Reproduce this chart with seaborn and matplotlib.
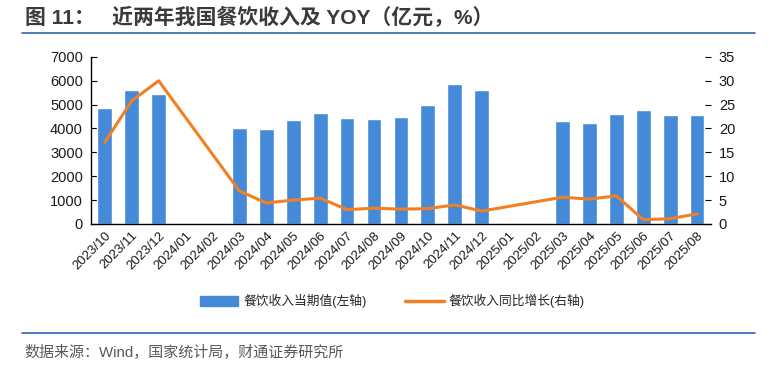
import matplotlib
matplotlib.use('Agg')
import matplotlib.pyplot as plt
import matplotlib.lines as mlines
import numpy as np
import pandas as pd
import seaborn as sns

months = ['2023/10', '2023/11', '2023/12', '2024/01', '2024/02', '2024/03', '2024/04',
          '2024/05', '2024/06', '2024/07', '2024/08', '2024/09', '2024/10', '2024/11',
          '2024/12', '2025/01', '2025/02', '2025/03', '2025/04', '2025/05', '2025/06',
          '2025/07', '2025/08']
revenue = [4860, 5630, 5460, np.nan, np.nan, 4020, 3980, 4370, 4660, 4450, 4410, 4480,
           5000, 5880, 5630, np.nan, np.nan, 4330, 4240, 4620, 4780, 4580, 4580]
yoy = [17.1, 25.8, 30.0, np.nan, np.nan, 6.9, 4.4, 5.0, 5.4, 3.0, 3.3, 3.1,
       3.2, 4.0, 2.7, np.nan, np.nan, 5.6, 5.2, 5.9, 0.9, 1.1, 2.1]

bar_label = '餐饮收入当期值(左轴)'
line_label = '餐饮收入同比增长(右轴)'
title = '图 11：   近两年我国餐饮收入及 YOY（亿元，%）'
source = '数据来源：Wind，国家统计局，财通证券研究所'

sns.set_theme(style='white')
plt.rcParams['font.family'] = ['Liberation Sans', 'Noto Sans CJK SC', 'DejaVu Sans']

df = pd.DataFrame({'month': months, 'revenue': revenue, 'yoy': yoy})
df['pos'] = np.arange(len(df))

fig = plt.figure(figsize=(7.74, 3.72), dpi=100)
ax = fig.add_axes([0.118, 0.398, 0.800, 0.449])

bar_color = '#4589D9'
line_color = '#F28021'

sns.barplot(data=df, x='month', y='revenue', order=months, color=bar_color,
            width=0.55, saturation=1, ax=ax)
ax.set_ylim(0, 7000)
ax.set_yticks(range(0, 7001, 1000))
ax.set_xlim(-0.5, len(months) - 0.5)
ax.set_xlabel('')
ax.set_ylabel('')

ax2 = ax.twinx()
line_df = df.dropna(subset=['yoy'])
sns.lineplot(data=line_df, x='pos', y='yoy', color=line_color, linewidth=2.2,
             ax=ax2, sort=True)
ax2.set_ylim(0, 35)
ax2.set_yticks(range(0, 36, 5))
ax2.set_xlim(-0.5, len(months) - 0.5)
ax2.set_xlabel('')
ax2.set_ylabel('')

for s in ['top', 'right']:
    ax.spines[s].set_visible(False)
for s in ['top', 'right', 'left', 'bottom']:
    ax2.spines[s].set_visible(False)
ax.spines['left'].set_color('black')
ax.spines['bottom'].set_color('black')
ax.spines['left'].set_linewidth(1)
ax.spines['bottom'].set_linewidth(1)

ax.set_xticks(range(len(months)))
ax.set_xticklabels(months, rotation=45, ha='right', rotation_mode='anchor', fontsize=9.5)
ax.set_xticks(np.arange(-0.5, len(months), 1), minor=True)
ax.tick_params(axis='x', which='major', length=0, pad=4)
ax.tick_params(axis='x', which='minor', length=5, width=0.8, direction='out', color='black')
ax.tick_params(axis='y', length=4, width=0.8, direction='in', color='black',
               labelsize=10.5, pad=6, left=True)
ax2.tick_params(axis='y', length=4, width=0.8, direction='in', color='black',
                labelsize=10.5, pad=6, right=True)
for lab in ax.get_yticklabels() + ax2.get_yticklabels() + ax.get_xticklabels():
    lab.set_color('#1a1a1a')

bar_handle = plt.Rectangle((0, 0), 1, 1, color=bar_color)
line_handle = mlines.Line2D([], [], color=line_color, linewidth=2.5)
fig.legend([bar_handle, line_handle], [bar_label, line_label], loc='center',
           bbox_to_anchor=(0.507, 0.19), ncol=2, frameon=False, fontsize=9.2,
           handlelength=3, handleheight=0.9, columnspacing=3.0, handletextpad=0.4)

fig.text(0.032, 0.952, title, fontsize=15, fontweight='bold', color='#3a3a3a',
         va='center', ha='left')
rule_color = '#2F63B0'
fig.add_artist(mlines.Line2D([0.029, 0.975], [0.911, 0.911], color=rule_color,
                             linewidth=1.2, transform=fig.transFigure))
fig.add_artist(mlines.Line2D([0.029, 0.975], [0.104, 0.104], color=rule_color,
                             linewidth=1.2, transform=fig.transFigure))
fig.text(0.032, 0.054, source, fontsize=10.8, color='#595959', va='center', ha='left')

fig.savefig('out.png', dpi=100)
